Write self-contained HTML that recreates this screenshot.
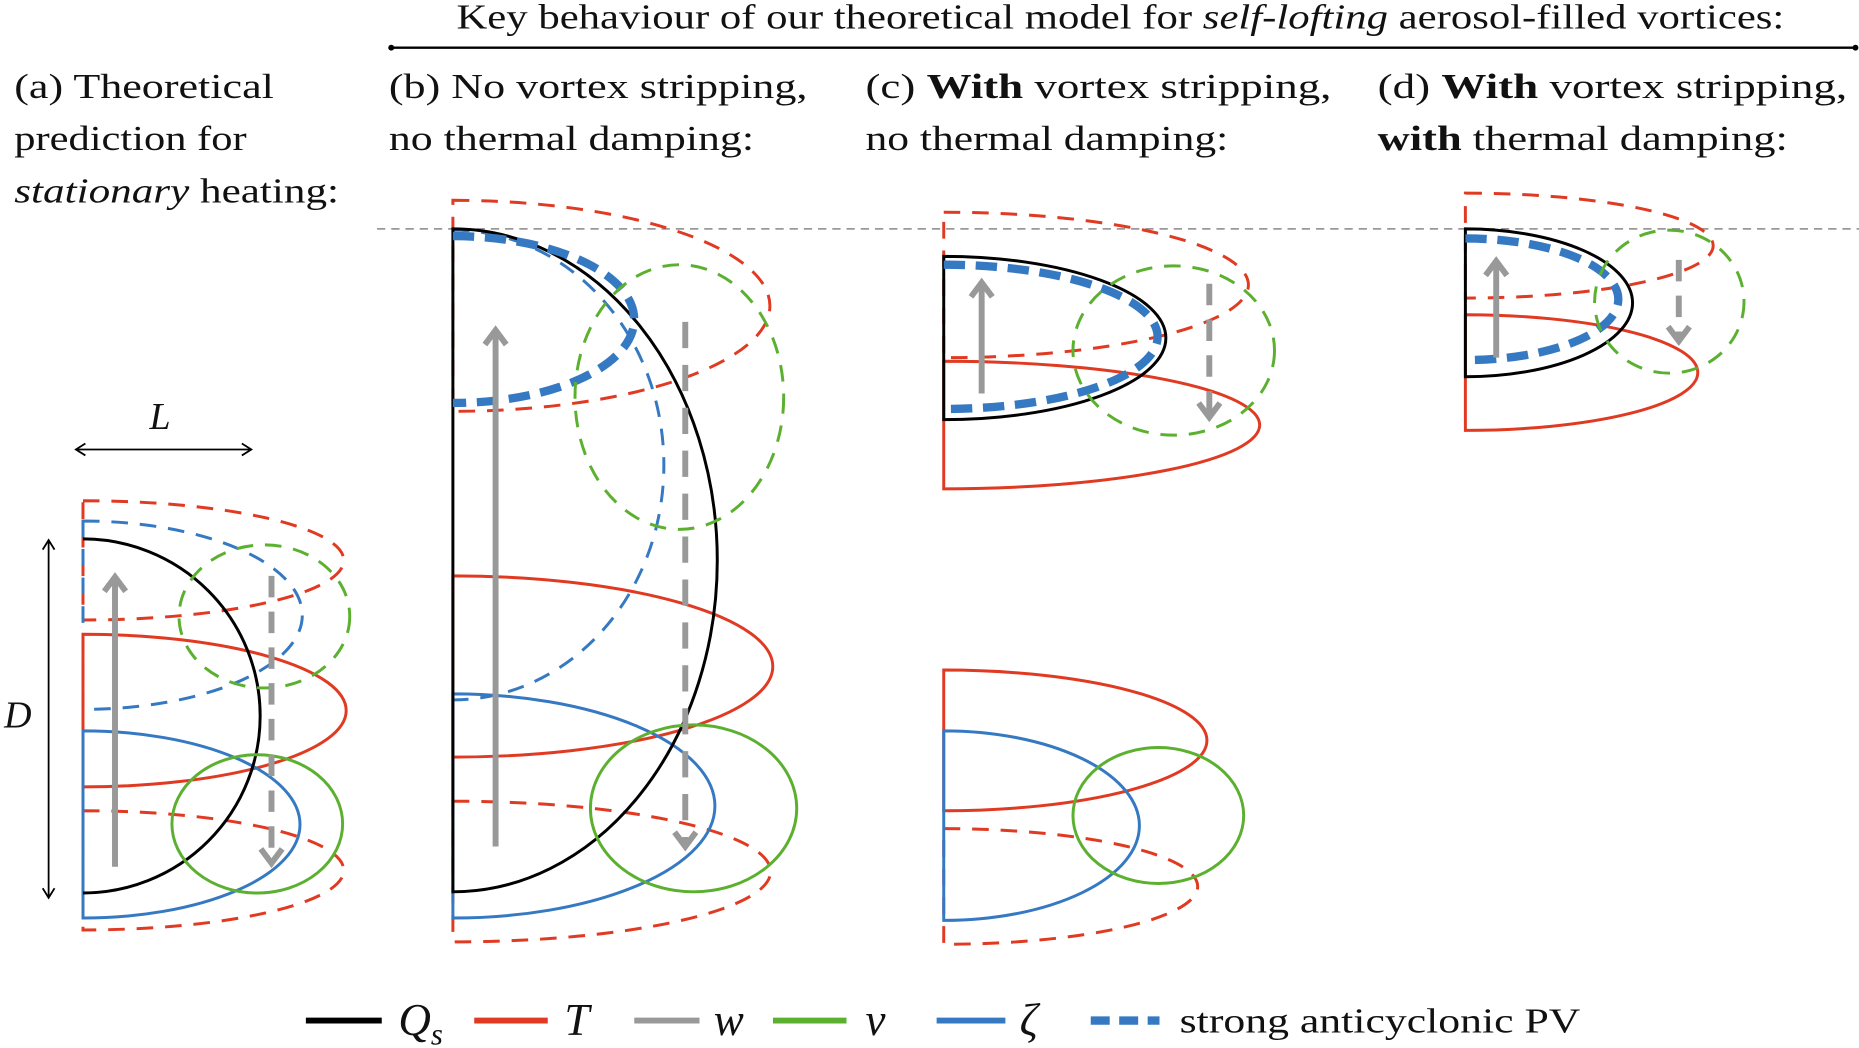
<!DOCTYPE html>
<html><head><meta charset="utf-8"><style>
html,body{margin:0;padding:0;background:#fff;}
svg{display:block;}
text{font-family:"Liberation Serif",serif;fill:#111;}
</style></head><body>
<svg width="1859" height="1048" viewBox="0 0 1568 879" preserveAspectRatio="none" xmlns="http://www.w3.org/2000/svg">
<rect width="1568" height="879" fill="#fff"/>
<!-- Header -->
<text x="385" y="24" font-size="29" textLength="1120" lengthAdjust="spacingAndGlyphs">Key behaviour of our theoretical model for <tspan font-style="italic">self-lofting</tspan> aerosol-filled vortices:</text>
<line x1="330" y1="40" x2="1565" y2="40" stroke="#000" stroke-width="2"/>
<circle cx="330" cy="40" r="2.5"/><circle cx="1565" cy="40" r="2.5"/>
<g font-size="29">
<text x="12" y="82" textLength="219" lengthAdjust="spacingAndGlyphs">(a) Theoretical</text>
<text x="12" y="126" textLength="196" lengthAdjust="spacingAndGlyphs">prediction for</text>
<text x="12" y="170" textLength="274" lengthAdjust="spacingAndGlyphs"><tspan font-style="italic">stationary</tspan> heating:</text>
<text x="328" y="82" textLength="353" lengthAdjust="spacingAndGlyphs">(b) No vortex stripping,</text>
<text x="328" y="126" textLength="308" lengthAdjust="spacingAndGlyphs">no thermal damping:</text>
<text x="730" y="82" textLength="393" lengthAdjust="spacingAndGlyphs">(c) <tspan font-weight="bold">With</tspan> vortex stripping,</text>
<text x="730" y="126" textLength="306" lengthAdjust="spacingAndGlyphs">no thermal damping:</text>
<text x="1162" y="82" textLength="396" lengthAdjust="spacingAndGlyphs">(d) <tspan font-weight="bold">With</tspan> vortex stripping,</text>
<text x="1162" y="126" textLength="346" lengthAdjust="spacingAndGlyphs"><tspan font-weight="bold">with</tspan> thermal damping:</text>
</g>
<line x1="318" y1="192" x2="1568" y2="192" stroke="#999" stroke-width="1.5" stroke-dasharray="7,5"/>

<g fill="none" stroke-width="2.5">
<!-- Panel a -->
<line x1="64" y1="377" x2="212" y2="377" stroke="#000" stroke-width="1.5"/>
<polyline points="72,372 64,377 72,382" stroke="#000" stroke-width="1.5"/>
<polyline points="204,372 212,377 204,382" stroke="#000" stroke-width="1.5"/>
<line x1="41" y1="453" x2="41" y2="753" stroke="#000" stroke-width="1.5"/>
<polyline points="36,461 41,453 46,461" stroke="#000" stroke-width="1.5"/>
<polyline points="36,745 41,753 46,745" stroke="#000" stroke-width="1.5"/>
<path d="M70,420 A220,50 0 0 1 70,520 Z" stroke="#e03a22" stroke-dasharray="14,10"/>
<path d="M70,680 A220,50 0 0 1 70,780 Z" stroke="#e03a22" stroke-dasharray="14,10"/>
<path d="M70,437 A185,79 0 0 1 70,595 Z" stroke="#3579c2" stroke-dasharray="14,10"/>
<path d="M70,532 A222,64 0 0 1 70,660 Z" stroke="#e03a22"/>
<path d="M70,613 A182,78 0 0 1 70,770 Z" stroke="#3579c2"/>
<path d="M70,452 A149,148 0 0 1 70,749" stroke="#000"/>
<ellipse cx="223" cy="517" rx="72" ry="60" stroke="#5cb030" stroke-dasharray="14,10"/>
<ellipse cx="217" cy="691" rx="72" ry="58" stroke="#5cb030"/>
<!-- Panel b -->
<path d="M382,168 A266,88 0 0 1 382,345 Z" stroke="#e03a22" stroke-dasharray="14,10"/>
<path d="M382,672 A268,59 0 0 1 382,790 Z" stroke="#e03a22" stroke-dasharray="14,10"/>
<path d="M382,193 A178,197 0 0 1 382,587" stroke="#3579c2" stroke-dasharray="14,10"/>
<path d="M382,483 A270,76 0 0 1 382,635 Z" stroke="#e03a22"/>
<path d="M382,582 A221,94 0 0 1 382,770 Z" stroke="#3579c2"/>
<path d="M382,192 A223,278 0 0 1 382,748 Z" stroke="#000"/>
<path d="M382,198 A153,70 0 0 1 382,338" stroke="#3579c2" stroke-width="7" stroke-dasharray="18,9"/>
<ellipse cx="573" cy="333" rx="88" ry="111" stroke="#5cb030" stroke-dasharray="14,10"/>
<ellipse cx="585" cy="678" rx="87" ry="70" stroke="#5cb030"/>
<!-- Panel c -->
<path d="M796,178 A257,61 0 0 1 796,300 Z" stroke="#e03a22" stroke-dasharray="14,10"/>
<path d="M796,303 A264,53 0 0 1 796,410 Z" stroke="#e03a22"/>
<path d="M796,215 A186,68 0 0 1 796,352 Z" stroke="#000"/>
<path d="M796,222 A179,60 0 0 1 796,343" stroke="#3579c2" stroke-width="7" stroke-dasharray="18,9"/>
<ellipse cx="990" cy="294" rx="85" ry="71" stroke="#5cb030" stroke-dasharray="14,10"/>
<path d="M796,562 A222,59 0 0 1 796,680 Z" stroke="#e03a22"/>
<path d="M796,695 A212,48 0 0 1 796,792 Z" stroke="#e03a22" stroke-dasharray="14,10"/>
<path d="M796,613 A164,79 0 0 1 796,772 Z" stroke="#3579c2"/>
<ellipse cx="977" cy="684" rx="72" ry="57" stroke="#5cb030"/>
<!-- Panel d -->
<path d="M1236,162 A209,44 0 0 1 1236,250 Z" stroke="#e03a22" stroke-dasharray="14,10"/>
<path d="M1236,264 A194,48 0 0 1 1236,361 Z" stroke="#e03a22"/>
<path d="M1236,192 A141,62 0 0 1 1236,316 Z" stroke="#000"/>
<path d="M1236,200 A129,51 0 0 1 1236,302" stroke="#3579c2" stroke-width="7" stroke-dasharray="18,9"/>
<ellipse cx="1408" cy="253" rx="63" ry="60" stroke="#5cb030" stroke-dasharray="14,10"/>
</g>
<!-- gray arrows -->
<g fill="none" stroke="#999" stroke-width="5">
<line x1="97" y1="727" x2="97" y2="484"/><polyline points="88,496 97,484 106,496"/>
<line x1="229" y1="483" x2="229" y2="724" stroke-dasharray="18,12"/><polyline points="220,712 229,724 238,712"/>
<line x1="418" y1="710" x2="418" y2="277"/><polyline points="409,289 418,277 427,289"/>
<line x1="578" y1="270" x2="578" y2="710" stroke-dasharray="22,14"/><polyline points="569,698 578,710 587,698"/>
<line x1="828" y1="330" x2="828" y2="237"/><polyline points="819,249 828,237 837,249"/>
<line x1="1020" y1="238" x2="1020" y2="350" stroke-dasharray="18,12"/><polyline points="1011,338 1020,350 1029,338"/>
<line x1="1262" y1="300" x2="1262" y2="219"/><polyline points="1253,231 1262,219 1271,231"/>
<line x1="1416" y1="218" x2="1416" y2="286" stroke-dasharray="18,12"/><polyline points="1407,274 1416,286 1425,274"/>
</g>
<text x="135" y="360" font-size="32" font-style="italic" text-anchor="middle">L</text>
<text x="15" y="610" font-size="32" font-style="italic" text-anchor="middle">D</text>
<!-- Legend -->
<g stroke-width="5">
<line x1="258" y1="856" x2="322" y2="856" stroke="#000"/>
<line x1="400" y1="856" x2="462" y2="856" stroke="#e03a22"/>
<line x1="535" y1="856" x2="590" y2="856" stroke="#999"/>
<line x1="652" y1="856" x2="714" y2="856" stroke="#5cb030"/>
<line x1="790" y1="856" x2="848" y2="856" stroke="#3579c2"/>
<line x1="920" y1="856" x2="978" y2="856" stroke="#3579c2" stroke-width="7" stroke-dasharray="16,8"/>
</g>
<g font-size="38" font-style="italic">
<text x="336" y="868">Q<tspan font-size="26" dy="8">s</tspan></text>
<text x="476" y="868">T</text>
<text x="602" y="868">w</text>
<text x="730" y="868">v</text>
<text x="860" y="868">ζ</text>
</g>
<text x="995" y="866" font-size="29" textLength="338" lengthAdjust="spacingAndGlyphs">strong anticyclonic PV</text>
</svg>
</body></html>
